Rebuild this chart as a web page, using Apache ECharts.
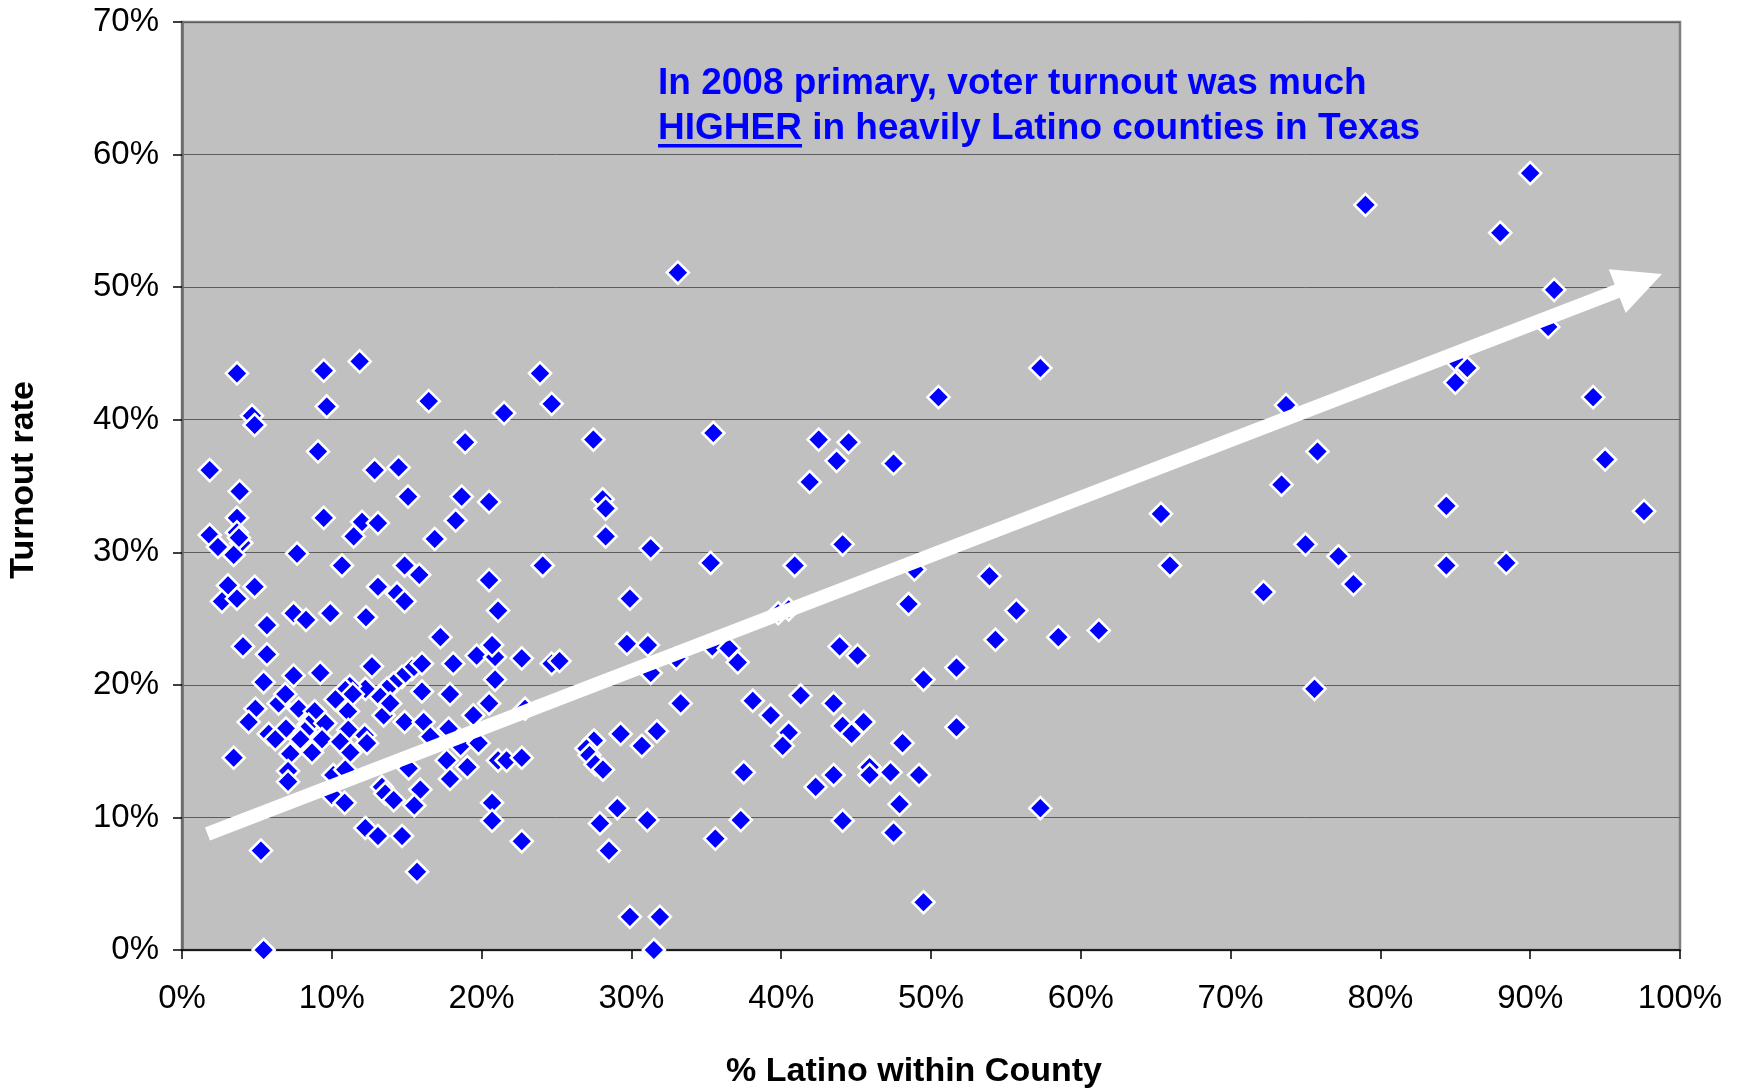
<!DOCTYPE html>
<html>
<head>
<meta charset="utf-8">
<script src="https://cdn.jsdelivr.net/npm/echarts@6/dist/echarts.min.js"></script>
<style>
html,body{margin:0;padding:0;background:#fff;}
#c{width:1742px;height:1091px;}
</style>
</head>
<body>
<div id="c"></div>
<script>
// % Latino within county (x) and 2008 primary turnout rate (y), both in percent
const latinoShare = [
3.67,9.46,11.86,16.47,4.67,4.85,9.66,9.08,1.85,3.85,12.86,14.46,15.09,3.67,3.67,3.96,1.85,2.40,3.45,9.46,
12.02,13.08,11.46,16.87,7.68,10.68,14.86,15.84,3.07,4.85,2.67,3.67,13.08,14.35,14.86,7.45,8.28,9.90,12.28,5.67,
17.25,4.07,5.67,3.8,
12.68,7.45,9.23,5.45,15.35,16.02,14.69,14.13,13.68,16.02,12.24,11.2,10.9,11.4,10.24,6.45,6.9,4.90,7.79,8.86,
11.08,13.24,13.46,14.86,16.13,13.9,4.45,6.94,8.46,9.57,8.2,5.79,6.23,7.90,9.35,11.1,10.57,12.2,12.35,16.58,
3.45,7.23,8.68,11.24,15.13,7.08,7.08,10.1,10.9,10.0,10.86,13.35,13.57,14.13,15.91,15.51,12.24,13.08,14.69,5.27,
15.69,5.45,
23.9,24.68,21.5,18.9,27.46,35.47,18.67,20.5,18.27,28.08,28.28,28.28,31.29,24.08,35.29,20.5,21.1,29.9,29.7,31.1,
18.11,19.67,20.9,20.7,22.68,24.68,25.2,20.9,17.89,20.5,19.45,22.9,17.8,18.6,19.8,17.67,19.05,17.89,21.1,21.67,
22.68,33.29,31.29,33.0,35.4,29.28,31.7,30.7,27.5,27.0,27.2,27.6,28.1,20.7,20.7,22.68,27.9,29.06,31.06,28.5,
35.6,29.9,31.9,31.5,
57.3,50.5,42.5,44.5,43.7,47.5,41.9,65.35,44.1,40.9,65.95,48.9,53.9,48.5,55.7,39.8,40.5,54.3,58.5,61.2,
43.9,45.1,36.5,33.1,
37.1,49.5,51.7,38.1,39.3,41.3,43.5,40.5,40.1,44.1,45.5,44.7,51.7,48.1,37.5,43.5,42.3,45.9,45.9,47.3,
49.2,47.9,57.3,37.3,44.1,47.5,49.5,
90.0,79.0,88.0,91.6,91.2,
73.7,85.0,85.8,85.0,94.2,75.8,73.4,95.0,84.4,97.6,75.0,77.2,84.4,88.4,78.2,72.2,
75.6
];
const turnoutRate = [
43.5,43.7,44.4,41.4,40.3,39.6,41.0,37.6,36.2,34.6,36.2,36.4,34.2,32.6,31.5,30.7,31.3,30.4,29.8,32.6,
32.3,32.2,31.2,31.0,29.9,29.0,29.0,28.3,27.5,27.4,26.3,26.5,27.4,26.9,26.3,25.4,24.9,25.4,25.1,24.5,
23.6,22.9,22.3,31.1,
21.4,20.7,20.9,20.2,21.2,21.6,20.6,20.1,19.7,19.5,19.7,19.9,19.6,19.3,18.9,18.6,19.3,18.2,18.2,18.0,
18.0,19.1,17.7,17.2,17.2,18.6,17.2,16.7,17.0,17.1,16.5,16.3,15.9,15.9,15.9,16.6,15.7,16.2,15.6,16.1,
14.5,14.8,14.9,14.9,13.7,13.5,12.7,13.2,13.6,11.7,11.1,12.3,11.8,11.3,12.1,10.9,9.2,8.6,8.6,7.5,
5.9,0.0,
43.5,41.2,40.5,38.3,38.5,39.0,34.2,33.8,32.4,34.0,33.3,31.2,30.3,29.0,29.2,27.9,25.6,26.5,23.1,23.0,
21.6,22.2,22.1,23.0,22.0,21.6,21.8,20.4,19.3,18.6,17.7,18.2,16.7,15.4,15.6,14.3,13.8,12.9,14.3,14.3,
14.5,18.6,20.9,22.0,22.9,16.3,16.5,15.4,15.8,15.2,14.7,14.0,13.6,11.1,9.75,8.2,9.55,10.7,9.8,7.5,
8.4,2.5,2.5,0.0,
43.9,41.7,38.5,38.3,36.9,36.7,35.3,32.9,30.6,29.0,29.0,28.7,28.2,26.1,25.6,25.4,25.7,23.4,23.6,24.1,
22.9,22.2,22.75,51.1,
21.7,20.4,21.3,18.8,17.7,19.2,18.6,16.4,15.4,16.9,17.2,16.3,16.8,15.6,13.4,13.2,12.3,13.8,13.2,13.4,
13.2,11.0,10.7,9.8,9.75,8.85,3.6,
58.6,56.2,54.1,49.8,47.0,
41.1,44.5,43.9,42.8,41.7,37.6,35.1,37.0,33.5,33.1,30.6,29.7,29.0,29.2,27.6,27.0,
19.7
];
const xTicks = {min: 0, max: 100, step: 10};
const yTicks = {min: 0, max: 70, step: 10};
// trend arrow (annotation) from/to in data units
const arrowFrom = [1.7, 8.75];
const arrowTo = [98.8, 51.0];
const noteLine1 = 'In 2008 primary, voter turnout was much';
const noteLine2 = 'HIGHER in heavily Latino counties in Texas';
const xTitle = '% Latino within County';
const yTitle = 'Turnout rate';

const points = latinoShare.map((x, i) => [x, turnoutRate[i]]);
const FONT = '"Liberation Sans", Arial, Helvetica, sans-serif';

const chart = echarts.init(document.getElementById('c'), null, {renderer: 'canvas'});
chart.setOption({
  backgroundColor: '#ffffff',
  animation: false,
  grid: {
    left: 182, top: 22, width: 1498, height: 928,
    show: true, backgroundColor: '#c0c0c0', borderColor: '#808080', borderWidth: 2.5
  },
  xAxis: {
    type: 'value', min: xTicks.min, max: xTicks.max, interval: xTicks.step,
    axisLine: {show: true, onZero: false, lineStyle: {color: '#000', width: 1.5}},
    axisTick: {show: true, inside: false, length: 9, lineStyle: {color: '#000', width: 1.5}},
    axisLabel: {formatter: '{value}%', fontSize: 33, color: '#000', margin: 32, fontFamily: FONT},
    splitLine: {show: false}
  },
  yAxis: {
    type: 'value', min: yTicks.min, max: yTicks.max, interval: yTicks.step,
    axisLine: {show: true, onZero: false, lineStyle: {color: '#6a6a6a', width: 2.5}},
    axisTick: {show: true, inside: false, length: 9, lineStyle: {color: '#000', width: 1.5}},
    axisLabel: {formatter: '{value}%', fontSize: 33, color: '#000', margin: 23, fontFamily: FONT},
    splitLine: {show: true, lineStyle: {color: '#5c5c5c', width: 1}}
  },
  series: [
    {
      type: 'scatter',
      data: points,
      symbol: 'diamond',
      symbolSize: 22,
      itemStyle: {color: '#0000ff', borderColor: '#ffffff', borderWidth: 2.6, opacity: 1},
      z: 3
    },
    {
      type: 'custom',
      coordinateSystem: 'cartesian2d',
      silent: true,
      z: 10,
      clip: false,
      data: [[arrowFrom[0], arrowFrom[1], arrowTo[0], arrowTo[1]]],
      encode: {x: [0, 2], y: [1, 3]},
      renderItem: function (params, api) {
        const p0 = api.coord([api.value(0), api.value(1)]);
        const p1 = api.coord([api.value(2), api.value(3)]);
        const dx = p1[0] - p0[0], dy = p1[1] - p0[1];
        const len = Math.sqrt(dx * dx + dy * dy);
        const ux = dx / len, uy = dy / len;
        const nx = -uy, ny = ux;
        const w = 7, L = 48, H = 23.5;
        const bx = p1[0] - ux * L, by = p1[1] - uy * L;
        const pts = [
          [p0[0] + nx * w, p0[1] + ny * w],
          [bx + nx * w, by + ny * w],
          [bx + nx * H, by + ny * H],
          [p1[0], p1[1]],
          [bx - nx * H, by - ny * H],
          [bx - nx * w, by - ny * w],
          [p0[0] - nx * w, p0[1] - ny * w]
        ];
        return {type: 'polygon', shape: {points: pts}, style: {fill: '#ffffff'}};
      }
    }
  ],
  graphic: [
    {type: 'text', x: 658, y: 84, z: 20,
     style: {text: noteLine1, font: 'bold 37px ' + FONT, fill: '#0000ff', textAlign: 'left', textVerticalAlign: 'middle'}},
    {type: 'text', x: 658, y: 129, z: 20,
     style: {text: noteLine2, font: 'bold 37px ' + FONT, fill: '#0000ff', textAlign: 'left', textVerticalAlign: 'middle'}},
    {type: 'rect', x: 658, y: 144, z: 20, shape: {width: 144, height: 3.5}, style: {fill: '#0000ff'}},
    {type: 'text', x: 914, y: 1072, z: 20,
     style: {text: xTitle, font: 'bold 34px ' + FONT, fill: '#000', textAlign: 'center', textVerticalAlign: 'middle'}},
    {type: 'text', x: 24, y: 480, z: 20, rotation: Math.PI / 2,
     style: {text: yTitle, font: 'bold 34px ' + FONT, fill: '#000', textAlign: 'center', textVerticalAlign: 'middle'}}
  ]
});
</script>
</body>
</html>
